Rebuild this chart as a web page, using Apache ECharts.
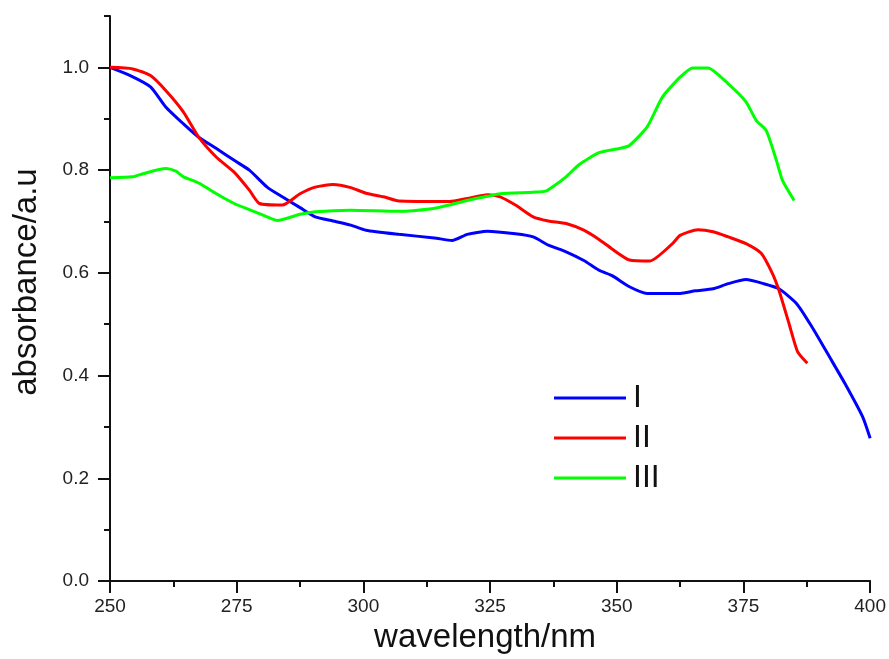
<!DOCTYPE html>
<html>
<head>
<meta charset="utf-8">
<script src="https://cdn.jsdelivr.net/npm/echarts@6/dist/echarts.min.js"></script>
<style>html,body{margin:0;padding:0;background:#fff;}#c{width:889px;height:659px;}</style>
</head>
<body>
<div id="c"></div>
<script>
// ---- data ----
const seriesNames = ['I', 'II', 'III'];
const seriesColors = ['#0000ff', '#ff0000', '#00ff00'];

const wlI = [250, 254, 258, 261, 264.5, 267.5, 271, 274.5, 277.5, 281, 284, 287.5, 290.5, 294, 297.5, 300.5, 307, 314, 317.5, 320.5, 324.5, 330, 333.5, 336.5, 340, 343.5, 346.5, 349, 352.5, 356, 362.5, 365.5, 369, 372, 375.5, 379, 382, 385.5, 388.5, 392, 395, 398.5, 400];
const absI = [1.000, 0.984, 0.962, 0.923, 0.890, 0.864, 0.842, 0.819, 0.800, 0.767, 0.748, 0.727, 0.709, 0.701, 0.693, 0.683, 0.675, 0.668, 0.663, 0.675, 0.681, 0.676, 0.670, 0.654, 0.641, 0.624, 0.605, 0.595, 0.573, 0.560, 0.560, 0.565, 0.569, 0.579, 0.587, 0.579, 0.569, 0.540, 0.495, 0.436, 0.385, 0.320, 0.278];

const wlII = [250, 254.5, 258, 261, 264.5, 267.5, 271, 274.5, 277.5, 279.5, 284, 287.5, 290.5, 294, 297.5, 300.5, 304, 307, 317, 320.5, 324.5, 327, 330, 333.5, 336.5, 340, 343.5, 346.5, 349, 352.5, 356.5, 361, 362.5, 366, 369, 372, 375.5, 378.5, 380.7, 382, 384, 385.7, 387.6];
const absII = [1.000, 0.997, 0.984, 0.955, 0.913, 0.864, 0.825, 0.796, 0.761, 0.735, 0.732, 0.754, 0.767, 0.772, 0.766, 0.755, 0.748, 0.740, 0.739, 0.745, 0.752, 0.748, 0.732, 0.709, 0.701, 0.696, 0.683, 0.665, 0.647, 0.625, 0.623, 0.657, 0.673, 0.684, 0.680, 0.670, 0.657, 0.638, 0.599, 0.566, 0.501, 0.446, 0.424];

const wlIII = [250, 254.5, 256.5, 261, 263, 264.5, 267.5, 271, 274.5, 277.5, 281, 283, 287.5, 290.5, 297.5, 307, 313.5, 317, 320.5, 324.5, 327, 333.5, 336, 338, 340, 342.6, 346.5, 350.5, 352.5, 356, 359, 362.5, 365, 368, 372, 375.5, 377.5, 379.5, 381.5, 382.7, 385];
const absIII = [0.785, 0.787, 0.793, 0.803, 0.798, 0.787, 0.775, 0.754, 0.735, 0.723, 0.709, 0.702, 0.714, 0.719, 0.722, 0.720, 0.725, 0.732, 0.741, 0.749, 0.754, 0.757, 0.759, 0.772, 0.787, 0.811, 0.834, 0.842, 0.848, 0.884, 0.942, 0.981, 0.999, 0.999, 0.968, 0.933, 0.897, 0.877, 0.819, 0.780, 0.741];

const xTickLabels = [250, 275, 300, 325, 350, 375, 400];
const yTickLabels = [0.0, 0.2, 0.4, 0.6, 0.8, 1.0];
const xTitle = 'wavelength/nm';
const yTitle = 'absorbance/a.u';

function pairs(xs, ys) { return xs.map((x, i) => [x, ys[i]]); }
const allWl = [wlI, wlII, wlIII];
const allAbs = [absI, absII, absIII];

const chart = echarts.init(document.getElementById('c'), null, {renderer: 'canvas'});
const FONT = 'Liberation Sans, Arial, sans-serif';
const axisLineStyle = {color: '#111', width: 2};

chart.setOption({
  animation: false,
  backgroundColor: '#ffffff',
  grid: {left: 110, right: 18, top: 16, bottom: 77, containLabel: false},
  legend: {
    data: seriesNames,
    orient: 'vertical',
    left: 554,
    top: 382,
    padding: 0,
    icon: 'rect',
    itemWidth: 72,
    itemHeight: 3,
    itemGap: 8,
    textStyle: {fontFamily: FONT, fontSize: 32, lineHeight: 32, color: '#111', padding: [0, 0, 0, 2]}
  },
  xAxis: {
    type: 'value',
    min: xTickLabels[0],
    max: xTickLabels[xTickLabels.length - 1],
    interval: 25,
    name: xTitle,
    nameLocation: 'middle',
    nameGap: 39,
    nameTextStyle: {fontFamily: FONT, fontSize: 33, color: '#111', padding: [0, 10, 0, 0]},
    axisLine: {show: true, lineStyle: axisLineStyle},
    axisTick: {show: true, inside: false, length: 12, lineStyle: axisLineStyle},
    minorTick: {show: true, splitNumber: 2, length: 6, lineStyle: axisLineStyle},
    axisLabel: {fontFamily: FONT, fontSize: 19, color: '#222', margin: 16},
    splitLine: {show: false}
  },
  yAxis: [{
    type: 'value',
    min: 0,
    max: 1.1,
    interval: 0.2,
    name: yTitle,
    nameLocation: 'middle',
    nameGap: 67,
    nameRotate: 90,
    nameTextStyle: {fontFamily: FONT, fontSize: 33, color: '#111', padding: [0, 0, 0, 33]},
    axisLine: {show: true, lineStyle: axisLineStyle},
    axisTick: {show: true, inside: false, length: 12, lineStyle: axisLineStyle, customValues: yTickLabels},
    axisLabel: {fontFamily: FONT, fontSize: 19, color: '#222', margin: 21, customValues: yTickLabels,
      formatter: v => v.toFixed(1)},
    splitLine: {show: false}
  }, {
    type: 'value',
    min: 0,
    max: 1.1,
    interval: 0.1,
    position: 'left',
    axisLine: {show: false},
    axisTick: {show: true, inside: false, length: 6, lineStyle: axisLineStyle},
    axisLabel: {show: false},
    splitLine: {show: false}
  }],
  series: seriesNames.map((n, i) => ({
    name: n,
    type: 'line',
    yAxisIndex: 0,
    data: pairs(allWl[i], allAbs[i]),
    showSymbol: false,
    symbol: 'none',
    smooth: 0.2,
    color: seriesColors[i],
    lineStyle: {color: seriesColors[i], width: 3}
  }))
});
</script>
</body>
</html>
